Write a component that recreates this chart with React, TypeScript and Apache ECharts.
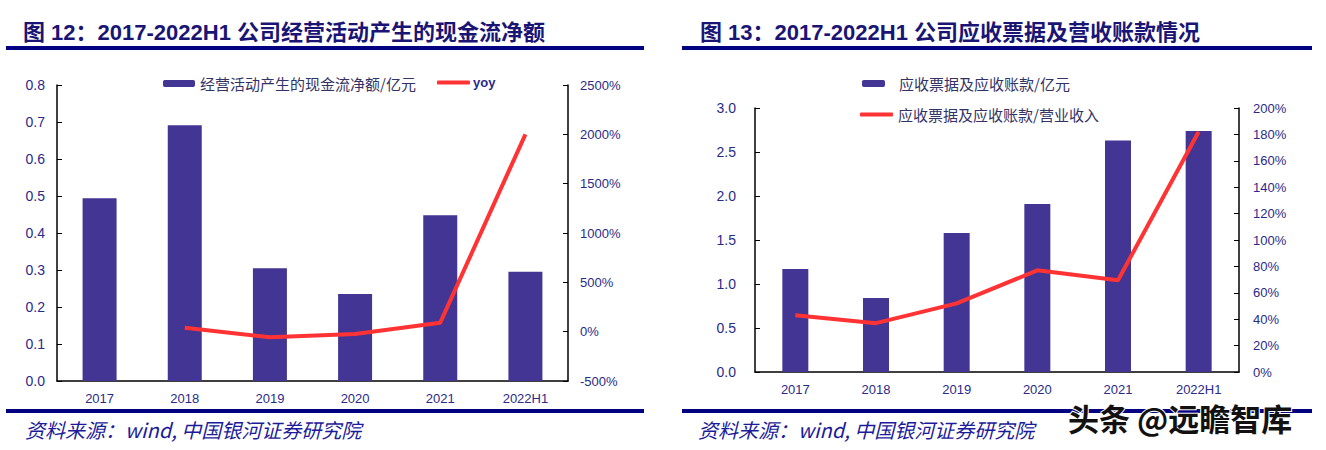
import React, { useEffect, useRef } from "react";
import * as echarts from "echarts";

const categories = ["2017", "2018", "2019", "2020", "2021", "2022H1"];
const cashFlow = [0.494, 0.691, 0.305, 0.235, 0.448, 0.295];
const cashFlowYoy = [null, 40, -56, -23, 91, 2000];
const receivables = [1.17, 0.84, 1.58, 1.91, 2.63, 2.74];
const receivablesRatio = [43, 37, 52, 77, 69.5, 182];

const title1 = "图 12：2017-2022H1 公司经营活动产生的现金流净额";
const title2 = "图 13：2017-2022H1 公司应收票据及营收账款情况";
const sourceText = "资料来源：wind, 中国银河证券研究院";
const watermark = "头条 @远瞻智库";
const name1 = "经营活动产生的现金流净额/亿元";
const name2 = "yoy";
const name3 = "应收票据及应收账款/亿元";
const name4 = "应收票据及应收账款/营业收入";

const NAVY = "#000080";
const LABEL = "#2a2a8a";
const BAR = "#433594";
const RED = "#ff3333";
const LATIN = "'Liberation Sans', Arial, sans-serif";
const LATIN_NAME = "'Liberation Sans', Arial";
const CJK = "'Noto Sans CJK SC', sans-serif";

function xAxisFor(gridIndex: number) {
  return {
    type: "category",
    gridIndex,
    data: categories,
    axisLine: { lineStyle: { color: "#000", width: 1.5 } },
    axisTick: { inside: true, length: 4, lineStyle: { color: "#000" } },
    axisLabel: { margin: 11, fontSize: 13, color: LABEL, fontFamily: LATIN },
  };
}

function yAxisFor(gridIndex: number, min: number, max: number, interval: number, position: string, margin: number, fmt: (v: number) => string, fontSize: number) {
  return {
    type: "value",
    gridIndex,
    min,
    max,
    interval,
    position,
    splitLine: { show: false },
    axisLine: { show: true, lineStyle: { color: "#000", width: 1.5 } },
    axisTick: { show: true, inside: true, length: 5, lineStyle: { color: "#000" } },
    axisLabel: { margin, fontSize, color: LABEL, fontFamily: LATIN, formatter: fmt },
  };
}

export default function App() {
  const ref = useRef<HTMLDivElement>(null);
  useEffect(() => {
    if (!ref.current) return;
    const chart = echarts.init(ref.current, undefined, { renderer: "svg" });
    const legendText = { fontSize: 15, color: "#333366", fontFamily: CJK };
    chart.setOption({
      animation: false,
      backgroundColor: "#fff",
      grid: [
        { left: 57, top: 85, width: 511, height: 296 },
        { left: 755, top: 108, width: 484, height: 264 },
      ],
      legend: [
        {
          left: 163,
          top: 76,
          padding: 0,
          itemWidth: 32,
          itemHeight: 7,
          textStyle: legendText,
          data: [{ name: name1 }],
        },
        {
          left: 437,
          top: 76,
          padding: 0,
          itemWidth: 33,
          itemHeight: 4,
          textStyle: { fontSize: 13, fontWeight: "bold", color: LABEL, fontFamily: LATIN, padding: [0, 0, 0, -2] },
          data: [{ name: name2, icon: "roundRect" }],
        },
        {
          left: 862,
          top: 76,
          padding: 0,
          itemWidth: 23,
          itemHeight: 7,
          textStyle: { ...legendText, padding: [0, 0, 0, 9] },
          data: [{ name: name3 }],
        },
        {
          left: 860,
          top: 107,
          padding: 0,
          itemWidth: 33,
          itemHeight: 4,
          textStyle: legendText,
          data: [{ name: name4, icon: "roundRect" }],
        },
      ],
      xAxis: [xAxisFor(0), xAxisFor(1)],
      yAxis: [
        yAxisFor(0, 0, 0.8, 0.1, "left", 12, (v: number) => v.toFixed(1), 14),
        yAxisFor(0, -500, 2500, 500, "right", 12, (v: number) => v + "%", 13),
        yAxisFor(1, 0, 3, 0.5, "left", 19, (v: number) => v.toFixed(1), 14),
        yAxisFor(1, 0, 200, 20, "right", 14, (v: number) => v + "%", 13),
      ],
      series: [
        { name: name1, type: "bar", xAxisIndex: 0, yAxisIndex: 0, data: cashFlow, barWidth: 34, itemStyle: { color: BAR } },
        { name: name2, type: "line", xAxisIndex: 0, yAxisIndex: 1, data: cashFlowYoy, symbol: "none", lineStyle: { color: RED, width: 4 }, itemStyle: { color: RED } },
        { name: name3, type: "bar", xAxisIndex: 1, yAxisIndex: 2, data: receivables, barWidth: 26, itemStyle: { color: BAR } },
        { name: name4, type: "line", xAxisIndex: 1, yAxisIndex: 3, data: receivablesRatio, symbol: "none", lineStyle: { color: RED, width: 4 }, itemStyle: { color: RED } },
      ],
      graphic: [
        { type: "text", style: { text: title1, x: 23, y: 32, verticalAlign: "middle", font: `bold 22px ${LATIN_NAME}, ${CJK}`, fill: "#1a1575" } },
        { type: "text", style: { text: title2, x: 700, y: 32, verticalAlign: "middle", font: `bold 22px ${LATIN_NAME}, ${CJK}`, fill: "#1a1575" } },
        { type: "rect", shape: { x: 6, y: 46, width: 638, height: 4 }, style: { fill: NAVY } },
        { type: "rect", shape: { x: 682, y: 46, width: 630, height: 4 }, style: { fill: NAVY } },
        { type: "rect", shape: { x: 6, y: 409, width: 638, height: 4 }, style: { fill: NAVY } },
        { type: "rect", shape: { x: 682, y: 409, width: 630, height: 4 }, style: { fill: NAVY } },
        { type: "text", style: { text: sourceText, x: 25, y: 429, verticalAlign: "middle", font: `italic 20px ${CJK}`, fill: "#1c1c9a" } },
        { type: "text", style: { text: sourceText, x: 698, y: 429, verticalAlign: "middle", font: `italic 20px ${CJK}`, fill: "#1c1c9a" } },
        {
          type: "text",
          z: 100,
          style: {
            text: watermark,
            x: 1068,
            y: 417,
            verticalAlign: "middle",
            font: `bold 31px ${CJK}`,
            fill: "#111",
            stroke: "#ffffff",
            lineWidth: 2,
          },
        },
      ],
    });
    return () => chart.dispose();
  }, []);
  return (
    <div
      ref={ref}
      style={{ position: "absolute", left: 0, top: 0, width: 1326, height: 450, background: "#fff" }}
    />
  );
}
